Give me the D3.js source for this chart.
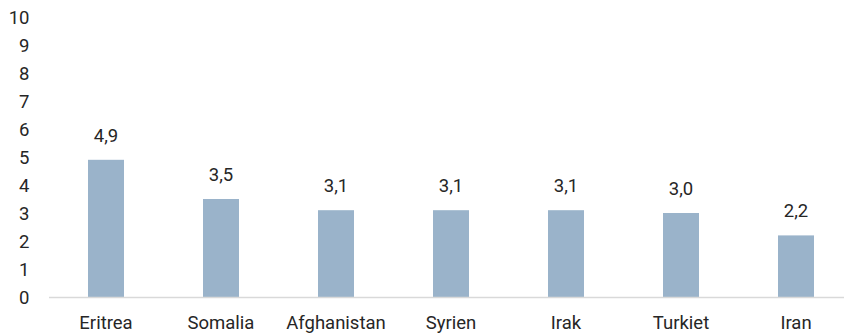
<!DOCTYPE html>
<html lang="en">
<head>
    <meta charset="UTF-8">
    <title>Bar chart</title>
    <script src="https://d3js.org/d3.v7.min.js"></script>
    <style>
        body, html { margin: 0; padding: 0; overflow: hidden; background: #fff; }
        svg { display: block; }
        text { font-family: Roboto, "Liberation Sans", sans-serif; fill: #262626; }
    </style>
</head>
<body>
    <script>
        // Data
        const countries = ["Eritrea", "Somalia", "Afghanistan", "Syrien", "Irak", "Turkiet", "Iran"];
        const values = [4.9, 3.5, 3.1, 3.1, 3.1, 3.0, 2.2];
        const yTicks = [0, 1, 2, 3, 4, 5, 6, 7, 8, 9, 10];

        const width = 844, height = 334;
        const fontSize = 18.5;

        const svg = d3.select("body").append("svg")
            .attr("width", width)
            .attr("height", height);

        const x = d3.scaleBand()
            .domain(countries)
            .range([48.5, 853.5])
            .paddingInner(0.687)
            .paddingOuter(0.3435);

        const y = d3.scaleLinear()
            .domain([0, 10])
            .range([297, 17]);

        const fmt = v => d3.format(".1f")(v).replace(".", ",");

        // y tick labels (no axis line)
        svg.append("g")
            .selectAll("text")
            .data(yTicks)
            .enter().append("text")
            .attr("x", 29.5)
            .attr("y", d => y(d) + 1)
            .attr("dy", "0.35em")
            .attr("text-anchor", "end")
            .attr("font-size", fontSize)
            .text(d => d);

        // bars
        svg.append("g")
            .selectAll("rect")
            .data(values)
            .enter().append("rect")
            .attr("x", (d, i) => x(countries[i]))
            .attr("y", d => y(d))
            .attr("width", x.bandwidth())
            .attr("height", d => y(0) - y(d))
            .attr("fill", "#9AB3CA");

        // baseline
        svg.append("line")
            .attr("x1", 49).attr("x2", width)
            .attr("y1", y(0) + 0.5).attr("y2", y(0) + 0.5)
            .attr("stroke", "#D9D9D9")
            .attr("stroke-width", 1.5);

        // value labels
        svg.append("g")
            .selectAll("text")
            .data(values)
            .enter().append("text")
            .attr("x", (d, i) => x(countries[i]) + x.bandwidth() / 2)
            .attr("y", d => y(d) - 18)
            .attr("text-anchor", "middle")
            .attr("font-size", fontSize)
            .text(d => fmt(d));

        // category labels
        svg.append("g")
            .selectAll("text")
            .data(countries)
            .enter().append("text")
            .attr("x", d => x(d) + x.bandwidth() / 2)
            .attr("y", 329)
            .attr("text-anchor", "middle")
            .attr("font-size", fontSize)
            .text(d => d);
    </script>
</body>
</html>
